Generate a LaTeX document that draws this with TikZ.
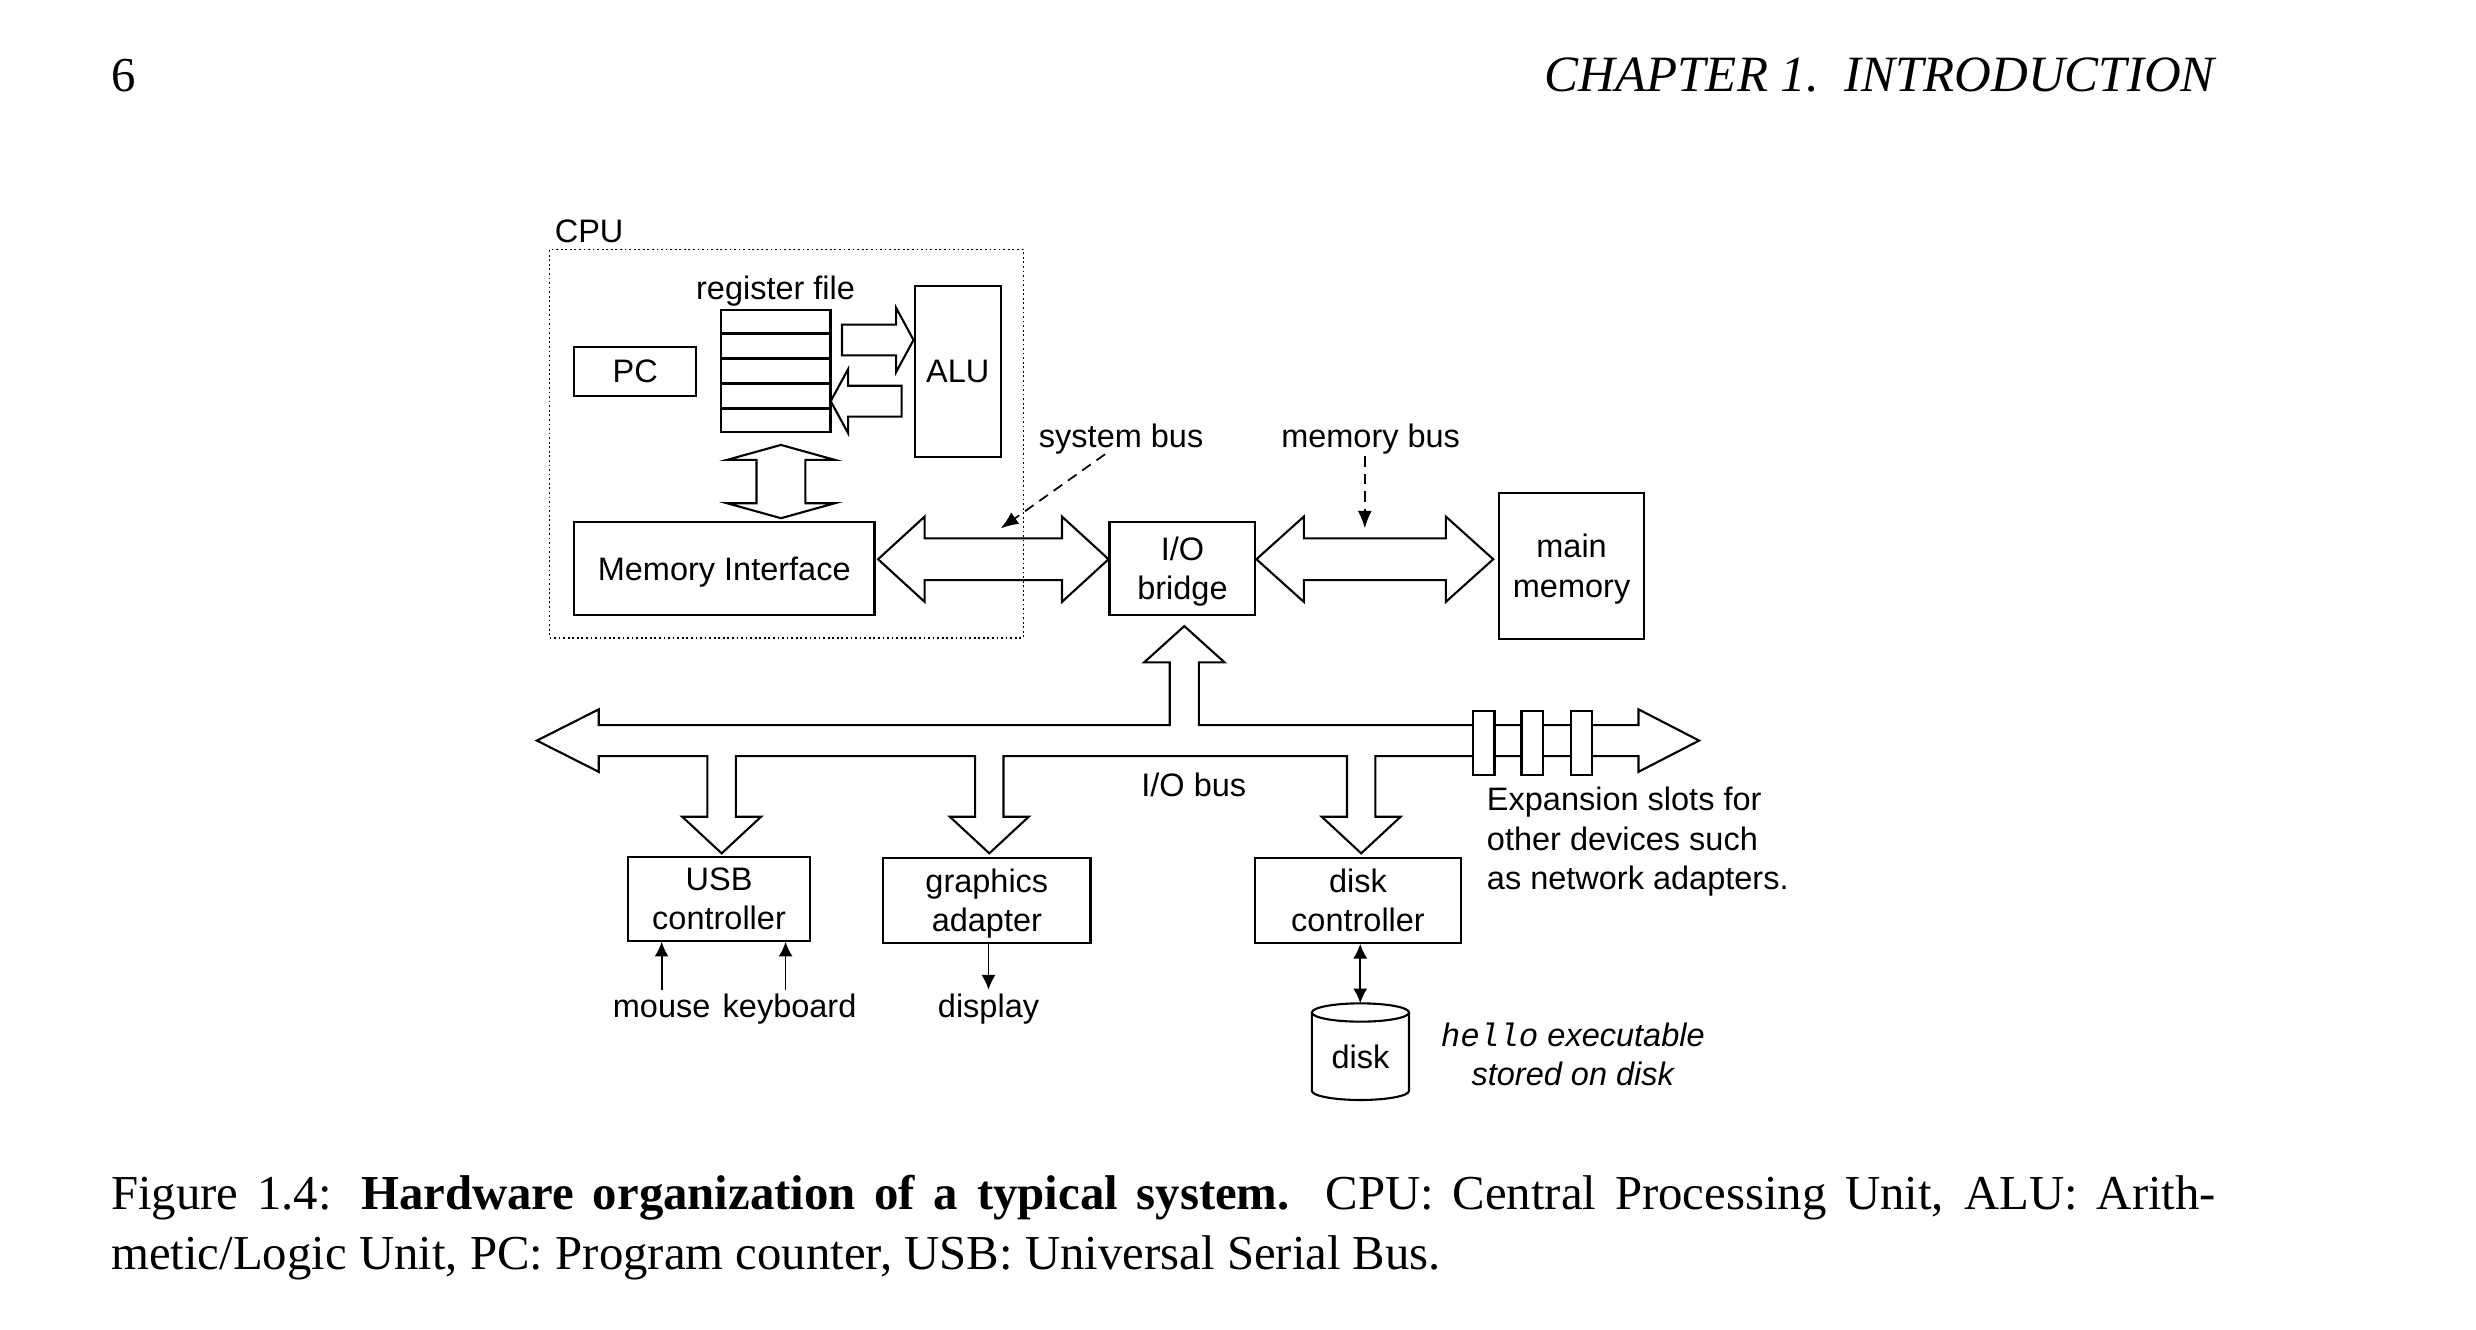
\documentclass[tikz,border=0pt]{standalone}
\usepackage{fontspec}
\setmainfont{Liberation Serif}
\setmonofont{Liberation Mono}
\newfontfamily\diagfont{Liberation Sans}
\usepackage{tikz}
\usetikzlibrary{arrows.meta,positioning,calc}
\newcommand{\px}{0.45pt}
\newcommand{\hbus}[5]{\draw[blockarrow] (#1) -- ++(#3,-#4) -- ++(0,#4-#5) -- ($(#2)+(-#3,-#5)$) -- ++(0,#5-#4) -- (#2) -- ++(-#3,#4) -- ++(0,#5-#4) -- ($(#1)+(#3,#5)$) -- ++(0,#4-#5) -- cycle;}
\newcommand{\vbus}[5]{\draw[blockarrow] (#1) -- ++(-#4,#3) -- ++(#4-#5,0) -- ($(#2)+(-#5,-#3)$) -- ++(#5-#4,0) -- (#2) -- ++(#4,-#3) -- ++(#5-#4,0) -- ($(#1)+(#5,#3)$) -- ++(#4-#5,0) -- cycle;}

\begin{document}
\begin{tikzpicture}[x=0.45pt,y=-0.45pt,font=\diagfont\fontsize{9.26pt}{11.2pt}\selectfont,
  box/.style={draw,line width=0.6pt,inner sep=0pt,align=center,text depth=0pt},
  txt/.style={inner sep=1pt,align=center,text depth=0pt},
  lbl/.style={txt,text height=6.8pt},
  blockarrow/.style={draw,line width=0.6pt,line join=miter},
  slot/.style={draw,fill=white,line width=0.6pt},
  wire/.style={line width=0.5pt,-{Latex[length=4.2pt,width=4pt]}},
  pointer/.style={line width=0.5pt,dash pattern=on 3pt off 2pt,-{Latex[length=5pt,width=4pt]}},
  cpubox/.style={draw,line width=0.4pt,dash pattern=on 0.5pt off 0.8pt,inner sep=0pt},
  pagefont/.style={inner sep=0pt,font=\rmfamily\fontsize{13.9pt}{17.1pt}\selectfont}]
\fill[white] (0,0) rectangle (1568,842);
\useasboundingbox (0,0) rectangle (1568,842);

\node[pagefont,anchor=base west] (pagenum) at (70,58) {6};
\node[pagefont,anchor=base east,font=\rmfamily\fontsize{14.5pt}{17.1pt}\selectfont\itshape] (runhead) at (1403,58) {CHAPTER 1.\ \ INTRODUCTION};

\node[box,minimum width=77.5*\px,minimum height=31.3*\px] (pc) at (402.25,235.15) {PC};
\node[box,minimum width=69.5*\px,minimum height=77.5*\px] (regs) at (491.15,235.05) {};
\foreach \i in {1,...,4}
  \draw[line width=0.75pt] ($(regs.north west)!\i/5!(regs.south west)$) -- ($(regs.north east)!\i/5!(regs.south east)$);
\node[txt,above=1.5pt of regs] (regfile) {register file};
\node[box,minimum width=54.6*\px,minimum height=108.1*\px] (alu) at (606.5,235.15) {ALU};
\node[box,minimum width=190.3*\px,minimum height=59.1*\px] (memif) at (458.65,359.95) {Memory Interface};
\node[box,minimum width=92.4*\px,minimum height=59.1*\px] (iob) at (748.8,359.95) {I/O\\bridge};
\node[box,minimum width=92.1*\px,minimum height=92.7*\px] (mainmem) at (995.25,358.35) {main\\memory};
\node[box,minimum width=115.5*\px,minimum height=53.2*\px] (usb) at (455.35,569.1) {USB\\controller};
\node[box,minimum width=131.3*\px,minimum height=53.4*\px] (gfx) at (624.95,570.3) {graphics\\adapter};
\node[box,minimum width=130.8*\px,minimum height=53.4*\px] (diskc) at (860,570.3) {disk\\controller};

\draw[blockarrow] ($(alu.west)+(0,-19.85)$) -- ++(-11,-20.25) -- ++(0,10.5) -- ++(-34.3,0) -- ++(0,19.5) -- ++(34.3,0) -- ++(0,10.5) -- cycle;
\draw[blockarrow] ($(regs.east)+(-0.5,19)$) -- ++(11,-20.25) -- ++(0,10.5) -- ++(33.9,0) -- ++(0,19.5) -- ++(-33.9,0) -- ++(0,10.5) -- cycle;
\coordinate (rmtop) at ($(regs.south)+(3.4,7.3)$);
\coordinate (rmbot) at ($(regs.south)+(3.4,53.7)$);
\vbus{rmtop}{rmbot}{9.5}{34.2}{15.5}
\coordinate (sbL) at ($(memif.east)+(1.6,-5.8)$);
\coordinate (sbR) at ($(iob.west)+(0.1,-5.8)$);
\hbus{sbL}{sbR}{29.5}{27}{13.2}
\coordinate (mbL) at ($(iob.east)+(0,-5.8)$);
\coordinate (mbR) at ($(mainmem.west)+(-2.9,-4.2)$);
\hbus{mbL}{mbR}{30}{27}{13.2}

\node[txt] (sysbus) at (710,276) {system bus};
\node[txt] (membus) at (868,276) {memory bus};
\coordinate (sbtip) at (633.8,334.6);
\coordinate (mbtip) at (864.3,334.6);
\draw[pointer,shorten <=1.2pt] ([xshift=-8*\px]sysbus.south) -- (sbtip);
\draw[pointer,shorten <=1.2pt] (mbtip |- membus.south) -- (mbtip);

\draw[blockarrow] (340,469) -- (379.2,449.2) -- (379.2,459.2) -- (740.8,459.2) -- (740.8,419.5) -- (724.5,419.5) -- (750,396.5) -- (775.5,419.5) -- (759.2,419.5) -- (759.2,459.2) -- (1037.6,459.2) -- (1037.6,449.2) -- (1076,469) -- (1037.6,488.8) -- (1037.6,478.8)
  foreach \c in {862,626.5,457} { -- (\c+9,478.8) -- (\c+9,517.2) -- (\c+25,517.2) -- (\c,540.4) -- (\c-25,517.2) -- (\c-9,517.2) -- (\c-9,478.8) }
  -- (379.2,478.8) -- (379.2,488.8) -- cycle;
\foreach \s in {933,963.5,994.6}
  \draw[slot] (\s,450.1) rectangle ++(13.4,40.7);
\node[txt] (iobus) at (756,497) {I/O bus};
\node[txt,align=left,anchor=west] (slots) at (939,531) {Expansion slots for\\other devices such\\as network adapters.};

\node[lbl] (mouse) at (419,637) {mouse};
\node[lbl] (keyboard) at (500,637) {keyboard};
\node[lbl] (display) at (626,637) {display};
\draw[wire] (mouse.north) -- (mouse.north |- usb.south);
\draw[wire] ([xshift=-2.5*\px]keyboard.north) -- ([xshift=-2.5*\px]keyboard.north |- usb.south);
\draw[wire] (display.north |- gfx.south) -- (display.north);

\draw[line width=0.6pt] (830.8,641.2) -- (830.8,690.8) arc[start angle=180,end angle=0,x radius=30.75,y radius=5.8] -- (892.3,641.2);
\draw[line width=0.6pt] (861.55,641.2) ellipse[x radius=30.75,y radius=5.8];
\node[txt] (disk) at (861.5,669) {disk};
\coordinate (disktop) at (861.4,635.4);
\draw[wire,{Latex[length=4.2pt,width=4pt]}-{Latex[length=4.2pt,width=4pt]}] (disktop |- diskc.south) -- (disktop);
\node[txt,font=\diagfont\fontsize{9.26pt}{11.2pt}\selectfont\itshape] (hello) at (996,667.5) {\texttt{hello} executable\\stored on disk};

\node[cpubox,minimum width=300*\px,minimum height=246*\px] (cpu) at (498,281) {};
\node[anchor=south west,inner sep=1.5pt] (cpulabel) at (cpu.north west) {CPU};

\node[pagefont,anchor=north west,text width=599.85pt,align=justify] (caption) at (70,744) {Figure 1.4: \textbf{Hardware organization of a typical system.} CPU: Central Processing Unit, ALU: Arith-\linebreak metic/Logic Unit, PC: Program counter, USB: Universal Serial Bus.};
\end{tikzpicture}
\end{document}
